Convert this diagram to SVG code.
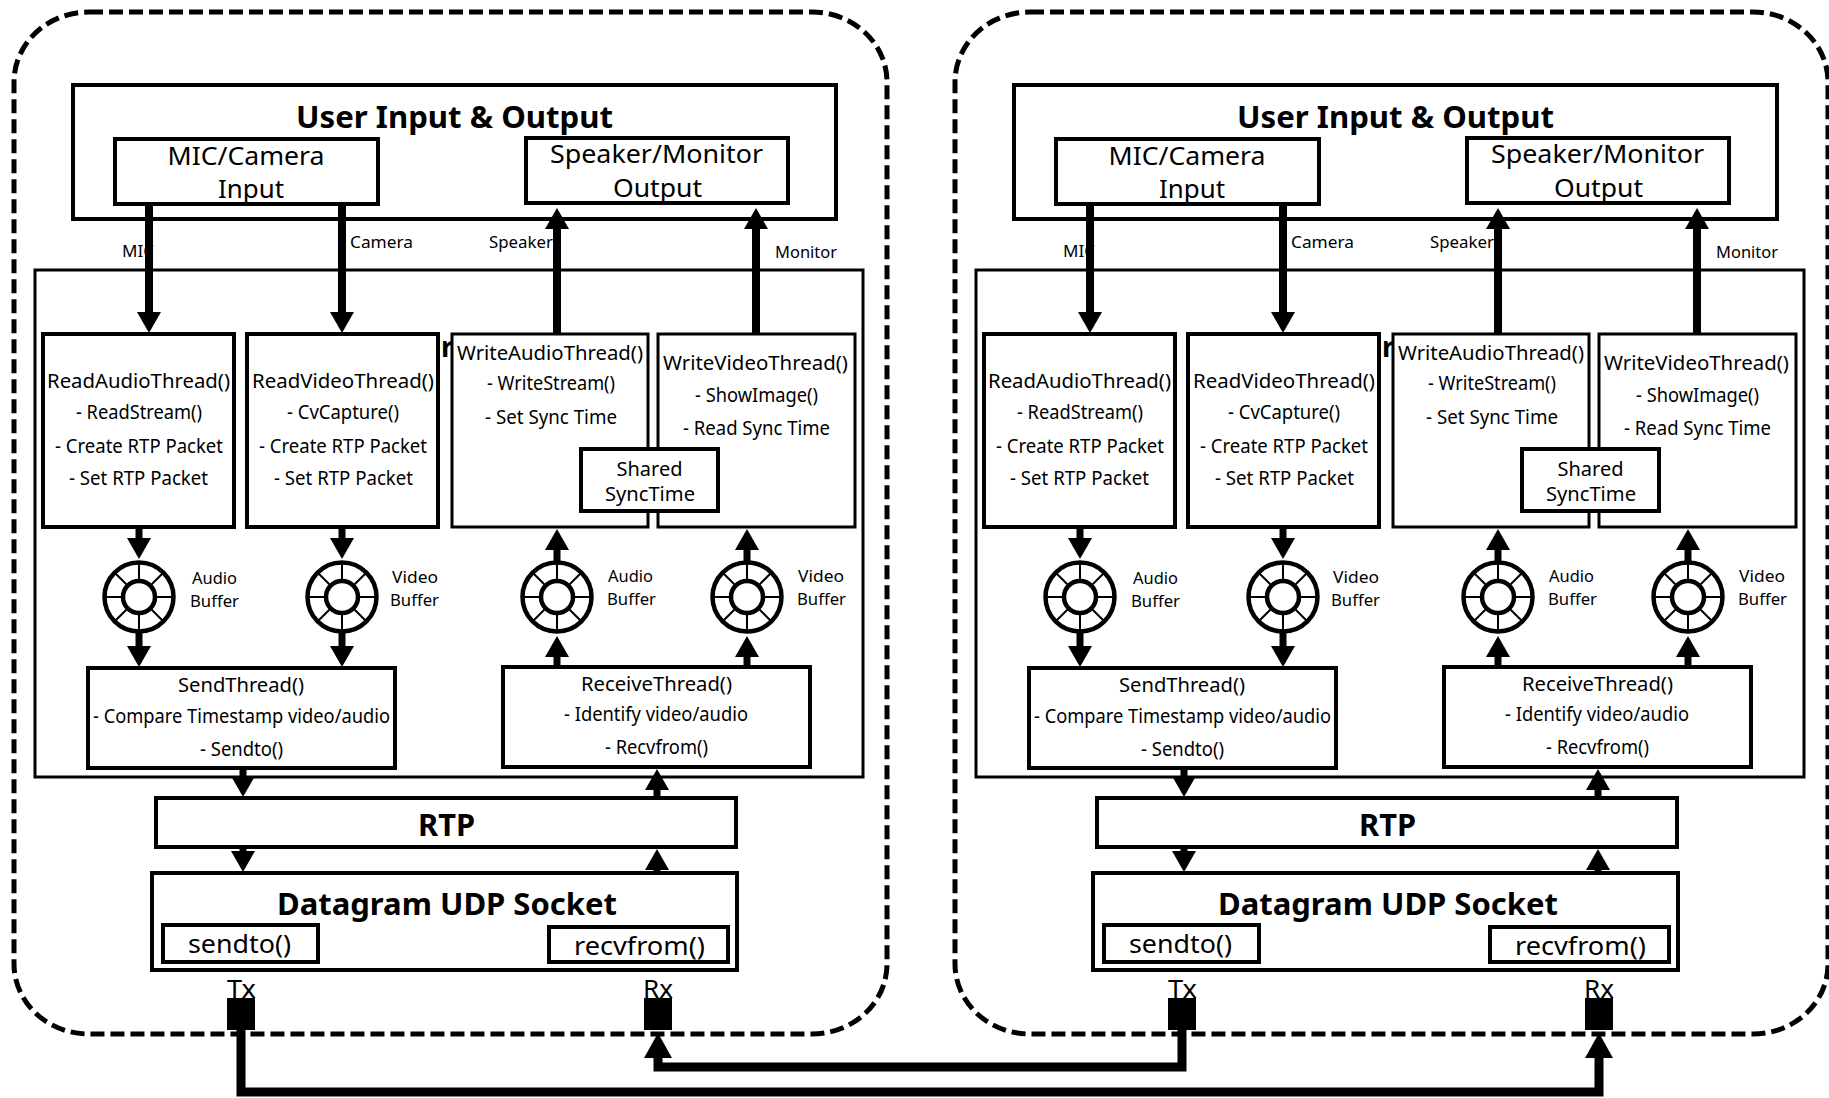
<svg xmlns="http://www.w3.org/2000/svg" xmlns:xlink="http://www.w3.org/1999/xlink" width="1829" height="1098" viewBox="0 0 1829 1098">
<style>
text{font-family:"Noto Sans","Open Sans","DejaVu Sans",sans-serif;fill:#000}
.c{text-anchor:middle}
.b{font-weight:bold}
.box{fill:#fff;stroke:#000;stroke-width:4}
.thin{stroke-width:3}
.dash{fill:none;stroke:#000;stroke-width:5;stroke-dasharray:14 6}
.t{font-size:20px}
.l{font-size:26px}
.s{font-size:17px}
.h{font-size:30px}
.arr{fill:none;stroke:#000;stroke-width:8;marker-end:url(#ah)}
.arr2{fill:none;stroke:#000;stroke-width:7;marker-end:url(#ah)}
.link{fill:none;stroke:#000;stroke-width:9;stroke-linejoin:miter;marker-end:url(#ahb)}
.port{fill:#000}
</style>
<defs>
<marker id="ah" markerUnits="userSpaceOnUse" markerWidth="22" markerHeight="24" refX="0" refY="12" orient="auto" viewBox="0 0 22 24"><path d="M0,0 L21,12 L0,24 z" fill="#000"/></marker>
<marker id="ahb" markerUnits="userSpaceOnUse" markerWidth="26" markerHeight="28" refX="0" refY="14" orient="auto" viewBox="0 0 26 28"><path d="M0,0 L25,14 L0,28 z" fill="#000"/></marker>
<g id="buf">
<circle r="34.5" fill="#fff" stroke="#000" stroke-width="4.5"/>
<circle r="16" fill="none" stroke="#000" stroke-width="4.5"/>
<g stroke="#000" stroke-width="2">
<line x1="18" y1="0" x2="34" y2="0"/><line x1="-18" y1="0" x2="-34" y2="0"/>
<line x1="0" y1="18" x2="0" y2="34"/><line x1="0" y1="-18" x2="0" y2="-34"/>
<line x1="12.7" y1="12.7" x2="24" y2="24"/><line x1="-12.7" y1="12.7" x2="-24" y2="24"/>
<line x1="12.7" y1="-12.7" x2="24" y2="-24"/><line x1="-12.7" y1="-12.7" x2="-24" y2="-24"/>
</g>
</g>
</defs>
<rect width="1829" height="1098" fill="#fff"/>

<!-- LEFT PANEL -->
<g id="panel-left">
<rect id="outline-left" class="dash" x="14" y="12" width="873" height="1022" rx="75" ry="70"/>
<g id="io-left"><rect class="box" x="73" y="85" width="763" height="134"/><text class="c b h" x="454.5" y="128" textLength="317" lengthAdjust="spacingAndGlyphs">User Input &amp; Output</text></g>
<g id="mic-left"><rect class="box" x="115" y="139" width="263" height="65"/><text class="c l" x="246" y="165" textLength="157" lengthAdjust="spacingAndGlyphs">MIC/Camera</text><text class="c l" x="251" y="198" textLength="66" lengthAdjust="spacingAndGlyphs">Input</text></g>
<g id="spk-left"><rect class="box" x="526" y="138" width="262" height="65"/><text class="c l" x="656.5" y="163" textLength="213" lengthAdjust="spacingAndGlyphs">Speaker/Monitor</text><text class="c l" x="657.5" y="197" textLength="89" lengthAdjust="spacingAndGlyphs">Output</text></g>
<g id="inner-left"><rect class="box thin" x="35" y="270" width="828" height="507"/></g>
<g id="labels-left">
<text class="s" x="122" y="257" textLength="32" lengthAdjust="spacingAndGlyphs">MIC</text>
<text class="s" x="350" y="248" textLength="63" lengthAdjust="spacingAndGlyphs">Camera</text>
<text class="s" x="489" y="248" textLength="64" lengthAdjust="spacingAndGlyphs">Speaker</text>
<text class="s" x="775" y="258" textLength="62" lengthAdjust="spacingAndGlyphs">Monitor</text>
<text class="b" x="441" y="357" font-size="28">r</text>
</g>
<g id="readaudio-left"><rect class="box" x="43" y="334" width="191" height="193"/>
<text class="c t" x="138.5" y="388" textLength="183" lengthAdjust="spacingAndGlyphs">ReadAudioThread()</text>
<text class="c t" x="139" y="419" textLength="126" lengthAdjust="spacingAndGlyphs">- ReadStream()</text>
<text class="c t" x="139" y="453" textLength="168" lengthAdjust="spacingAndGlyphs">- Create RTP Packet</text>
<text class="c t" x="138.5" y="485" textLength="139" lengthAdjust="spacingAndGlyphs">- Set RTP Packet</text></g>
<g id="readvideo-left"><rect class="box" x="247" y="334" width="191" height="193"/>
<text class="c t" x="343" y="388" textLength="182" lengthAdjust="spacingAndGlyphs">ReadVideoThread()</text>
<text class="c t" x="343" y="419" textLength="112" lengthAdjust="spacingAndGlyphs">- CvCapture()</text>
<text class="c t" x="343" y="453" textLength="168" lengthAdjust="spacingAndGlyphs">- Create RTP Packet</text>
<text class="c t" x="343.5" y="485" textLength="139" lengthAdjust="spacingAndGlyphs">- Set RTP Packet</text></g>
<g id="writeaudio-left"><rect class="box thin" x="452" y="334" width="196" height="193"/>
<text class="c t" x="550" y="360" textLength="186" lengthAdjust="spacingAndGlyphs">WriteAudioThread()</text>
<text class="c t" x="551" y="390" textLength="128" lengthAdjust="spacingAndGlyphs">- WriteStream()</text>
<text class="c t" x="551" y="424" textLength="132" lengthAdjust="spacingAndGlyphs">- Set Sync Time</text></g>
<g id="writevideo-left"><rect class="box thin" x="658" y="334" width="197" height="193"/>
<text class="c t" x="755.5" y="370" textLength="185" lengthAdjust="spacingAndGlyphs">WriteVideoThread()</text>
<text class="c t" x="756.5" y="402" textLength="123" lengthAdjust="spacingAndGlyphs">- ShowImage()</text>
<text class="c t" x="756.5" y="435" textLength="147" lengthAdjust="spacingAndGlyphs">- Read Sync Time</text></g>
<g id="shared-left"><rect class="box" x="581" y="449" width="137" height="62"/>
<text class="c t" x="649.5" y="476" textLength="66" lengthAdjust="spacingAndGlyphs">Shared</text>
<text class="c t" x="650" y="501" textLength="90" lengthAdjust="spacingAndGlyphs">SyncTime</text></g>
<g id="sendbufA-left"><use xlink:href="#buf" href="#buf" x="139" y="597"/><text class="s" x="192" y="584" textLength="45" lengthAdjust="spacingAndGlyphs">Audio</text><text class="s" x="190" y="607" textLength="49" lengthAdjust="spacingAndGlyphs">Buffer</text></g>
<g id="sendbufV-left"><use xlink:href="#buf" href="#buf" x="342" y="597"/><text class="s" x="392" y="583" textLength="46" lengthAdjust="spacingAndGlyphs">Video</text><text class="s" x="390" y="606" textLength="49" lengthAdjust="spacingAndGlyphs">Buffer</text></g>
<g id="recvbufA-left"><use xlink:href="#buf" href="#buf" x="557" y="597"/><text class="s" x="608" y="582" textLength="45" lengthAdjust="spacingAndGlyphs">Audio</text><text class="s" x="607" y="605" textLength="49" lengthAdjust="spacingAndGlyphs">Buffer</text></g>
<g id="recvbufV-left"><use xlink:href="#buf" href="#buf" x="747" y="597"/><text class="s" x="798" y="582" textLength="46" lengthAdjust="spacingAndGlyphs">Video</text><text class="s" x="797" y="605" textLength="49" lengthAdjust="spacingAndGlyphs">Buffer</text></g>
<g id="send-left"><rect class="box" x="88" y="668" width="307" height="100"/>
<text class="c t" x="241" y="692" textLength="126" lengthAdjust="spacingAndGlyphs">SendThread()</text>
<text class="c t" x="241.5" y="723" textLength="297" lengthAdjust="spacingAndGlyphs">- Compare Timestamp video/audio</text>
<text class="c t" x="241.5" y="756" textLength="83" lengthAdjust="spacingAndGlyphs">- Sendto()</text></g>
<g id="recv-left"><rect class="box" x="503" y="667" width="307" height="100"/>
<text class="c t" x="656.5" y="691" textLength="151" lengthAdjust="spacingAndGlyphs">ReceiveThread()</text>
<text class="c t" x="656" y="721" textLength="184" lengthAdjust="spacingAndGlyphs">- Identify video/audio</text>
<text class="c t" x="656.5" y="754" textLength="103" lengthAdjust="spacingAndGlyphs">- Recvfrom()</text></g>
<g id="rtp-left"><rect class="box" x="156" y="798" width="580" height="49"/><text class="c b" font-size="31" x="446.5" y="836" textLength="57" lengthAdjust="spacingAndGlyphs">RTP</text></g>
<g id="socket-left"><rect class="box" x="152" y="873" width="585" height="97"/><text class="c b h" x="447" y="915" textLength="340" lengthAdjust="spacingAndGlyphs">Datagram UDP Socket</text></g>
<g id="sendto-left"><rect class="box" x="163" y="925" width="155" height="37"/><text class="c" font-size="25" x="239.5" y="953" textLength="103" lengthAdjust="spacingAndGlyphs">sendto()</text></g>
<g id="recvfrom-left"><rect class="box" x="549" y="927" width="179" height="35"/><text class="c" font-size="25" x="639.5" y="955" textLength="131" lengthAdjust="spacingAndGlyphs">recvfrom()</text></g>
<g id="tx-left"><text font-size="26" x="227" y="998" textLength="29" lengthAdjust="spacingAndGlyphs">Tx</text><rect class="port" x="227" y="998" width="28" height="32"/></g>
<g id="rx-left"><text font-size="26" x="643" y="998" textLength="30" lengthAdjust="spacingAndGlyphs">Rx</text><rect class="port" x="644" y="998" width="28" height="32"/></g>
<g id="conn-left">
<path class="arr" d="M149,204 V312"/>
<path class="arr" d="M342,204 V312"/>
<path class="arr" d="M557,334 V229"/>
<path class="arr" d="M756,334 V229"/>
<path class="arr2" d="M139,527 V538"/>
<path class="arr2" d="M139,632 V646"/>
<path class="arr2" d="M342,527 V538"/>
<path class="arr2" d="M342,632 V646"/>
<path class="arr2" d="M557,667 V657"/>
<path class="arr2" d="M557,562 V550"/>
<path class="arr2" d="M747,667 V657"/>
<path class="arr2" d="M747,562 V550"/>
<path class="arr2" d="M243,768 V776"/>
<path class="arr2" d="M243,847 V851"/>
<path class="arr2" d="M657,873 V870"/>
<path class="arr2" d="M657,798 V790"/>
</g>
</g>

<!-- RIGHT PANEL -->
<g id="panel-right" transform="translate(941,0)">
<rect id="outline-right" class="dash" x="14" y="12" width="873" height="1022" rx="75" ry="70"/>
<g id="io-right"><rect class="box" x="73" y="85" width="763" height="134"/><text class="c b h" x="454.5" y="128" textLength="317" lengthAdjust="spacingAndGlyphs">User Input &amp; Output</text></g>
<g id="mic-right"><rect class="box" x="115" y="139" width="263" height="65"/><text class="c l" x="246" y="165" textLength="157" lengthAdjust="spacingAndGlyphs">MIC/Camera</text><text class="c l" x="251" y="198" textLength="66" lengthAdjust="spacingAndGlyphs">Input</text></g>
<g id="spk-right"><rect class="box" x="526" y="138" width="262" height="65"/><text class="c l" x="656.5" y="163" textLength="213" lengthAdjust="spacingAndGlyphs">Speaker/Monitor</text><text class="c l" x="657.5" y="197" textLength="89" lengthAdjust="spacingAndGlyphs">Output</text></g>
<g id="inner-right"><rect class="box thin" x="35" y="270" width="828" height="507"/></g>
<g id="labels-right">
<text class="s" x="122" y="257" textLength="32" lengthAdjust="spacingAndGlyphs">MIC</text>
<text class="s" x="350" y="248" textLength="63" lengthAdjust="spacingAndGlyphs">Camera</text>
<text class="s" x="489" y="248" textLength="64" lengthAdjust="spacingAndGlyphs">Speaker</text>
<text class="s" x="775" y="258" textLength="62" lengthAdjust="spacingAndGlyphs">Monitor</text>
<text class="b" x="441" y="357" font-size="28">r</text>
</g>
<g id="readaudio-right"><rect class="box" x="43" y="334" width="191" height="193"/>
<text class="c t" x="138.5" y="388" textLength="183" lengthAdjust="spacingAndGlyphs">ReadAudioThread()</text>
<text class="c t" x="139" y="419" textLength="126" lengthAdjust="spacingAndGlyphs">- ReadStream()</text>
<text class="c t" x="139" y="453" textLength="168" lengthAdjust="spacingAndGlyphs">- Create RTP Packet</text>
<text class="c t" x="138.5" y="485" textLength="139" lengthAdjust="spacingAndGlyphs">- Set RTP Packet</text></g>
<g id="readvideo-right"><rect class="box" x="247" y="334" width="191" height="193"/>
<text class="c t" x="343" y="388" textLength="182" lengthAdjust="spacingAndGlyphs">ReadVideoThread()</text>
<text class="c t" x="343" y="419" textLength="112" lengthAdjust="spacingAndGlyphs">- CvCapture()</text>
<text class="c t" x="343" y="453" textLength="168" lengthAdjust="spacingAndGlyphs">- Create RTP Packet</text>
<text class="c t" x="343.5" y="485" textLength="139" lengthAdjust="spacingAndGlyphs">- Set RTP Packet</text></g>
<g id="writeaudio-right"><rect class="box thin" x="452" y="334" width="196" height="193"/>
<text class="c t" x="550" y="360" textLength="186" lengthAdjust="spacingAndGlyphs">WriteAudioThread()</text>
<text class="c t" x="551" y="390" textLength="128" lengthAdjust="spacingAndGlyphs">- WriteStream()</text>
<text class="c t" x="551" y="424" textLength="132" lengthAdjust="spacingAndGlyphs">- Set Sync Time</text></g>
<g id="writevideo-right"><rect class="box thin" x="658" y="334" width="197" height="193"/>
<text class="c t" x="755.5" y="370" textLength="185" lengthAdjust="spacingAndGlyphs">WriteVideoThread()</text>
<text class="c t" x="756.5" y="402" textLength="123" lengthAdjust="spacingAndGlyphs">- ShowImage()</text>
<text class="c t" x="756.5" y="435" textLength="147" lengthAdjust="spacingAndGlyphs">- Read Sync Time</text></g>
<g id="shared-right"><rect class="box" x="581" y="449" width="137" height="62"/>
<text class="c t" x="649.5" y="476" textLength="66" lengthAdjust="spacingAndGlyphs">Shared</text>
<text class="c t" x="650" y="501" textLength="90" lengthAdjust="spacingAndGlyphs">SyncTime</text></g>
<g id="sendbufA-right"><use xlink:href="#buf" href="#buf" x="139" y="597"/><text class="s" x="192" y="584" textLength="45" lengthAdjust="spacingAndGlyphs">Audio</text><text class="s" x="190" y="607" textLength="49" lengthAdjust="spacingAndGlyphs">Buffer</text></g>
<g id="sendbufV-right"><use xlink:href="#buf" href="#buf" x="342" y="597"/><text class="s" x="392" y="583" textLength="46" lengthAdjust="spacingAndGlyphs">Video</text><text class="s" x="390" y="606" textLength="49" lengthAdjust="spacingAndGlyphs">Buffer</text></g>
<g id="recvbufA-right"><use xlink:href="#buf" href="#buf" x="557" y="597"/><text class="s" x="608" y="582" textLength="45" lengthAdjust="spacingAndGlyphs">Audio</text><text class="s" x="607" y="605" textLength="49" lengthAdjust="spacingAndGlyphs">Buffer</text></g>
<g id="recvbufV-right"><use xlink:href="#buf" href="#buf" x="747" y="597"/><text class="s" x="798" y="582" textLength="46" lengthAdjust="spacingAndGlyphs">Video</text><text class="s" x="797" y="605" textLength="49" lengthAdjust="spacingAndGlyphs">Buffer</text></g>
<g id="send-right"><rect class="box" x="88" y="668" width="307" height="100"/>
<text class="c t" x="241" y="692" textLength="126" lengthAdjust="spacingAndGlyphs">SendThread()</text>
<text class="c t" x="241.5" y="723" textLength="297" lengthAdjust="spacingAndGlyphs">- Compare Timestamp video/audio</text>
<text class="c t" x="241.5" y="756" textLength="83" lengthAdjust="spacingAndGlyphs">- Sendto()</text></g>
<g id="recv-right"><rect class="box" x="503" y="667" width="307" height="100"/>
<text class="c t" x="656.5" y="691" textLength="151" lengthAdjust="spacingAndGlyphs">ReceiveThread()</text>
<text class="c t" x="656" y="721" textLength="184" lengthAdjust="spacingAndGlyphs">- Identify video/audio</text>
<text class="c t" x="656.5" y="754" textLength="103" lengthAdjust="spacingAndGlyphs">- Recvfrom()</text></g>
<g id="rtp-right"><rect class="box" x="156" y="798" width="580" height="49"/><text class="c b" font-size="31" x="446.5" y="836" textLength="57" lengthAdjust="spacingAndGlyphs">RTP</text></g>
<g id="socket-right"><rect class="box" x="152" y="873" width="585" height="97"/><text class="c b h" x="447" y="915" textLength="340" lengthAdjust="spacingAndGlyphs">Datagram UDP Socket</text></g>
<g id="sendto-right"><rect class="box" x="163" y="925" width="155" height="37"/><text class="c" font-size="25" x="239.5" y="953" textLength="103" lengthAdjust="spacingAndGlyphs">sendto()</text></g>
<g id="recvfrom-right"><rect class="box" x="549" y="927" width="179" height="35"/><text class="c" font-size="25" x="639.5" y="955" textLength="131" lengthAdjust="spacingAndGlyphs">recvfrom()</text></g>
<g id="tx-right"><text font-size="26" x="227" y="998" textLength="29" lengthAdjust="spacingAndGlyphs">Tx</text><rect class="port" x="227" y="998" width="28" height="32"/></g>
<g id="rx-right"><text font-size="26" x="643" y="998" textLength="30" lengthAdjust="spacingAndGlyphs">Rx</text><rect class="port" x="644" y="998" width="28" height="32"/></g>
<g id="conn-right">
<path class="arr" d="M149,204 V312"/>
<path class="arr" d="M342,204 V312"/>
<path class="arr" d="M557,334 V229"/>
<path class="arr" d="M756,334 V229"/>
<path class="arr2" d="M139,527 V538"/>
<path class="arr2" d="M139,632 V646"/>
<path class="arr2" d="M342,527 V538"/>
<path class="arr2" d="M342,632 V646"/>
<path class="arr2" d="M557,667 V657"/>
<path class="arr2" d="M557,562 V550"/>
<path class="arr2" d="M747,667 V657"/>
<path class="arr2" d="M747,562 V550"/>
<path class="arr2" d="M243,768 V776"/>
<path class="arr2" d="M243,847 V851"/>
<path class="arr2" d="M657,873 V870"/>
<path class="arr2" d="M657,798 V790"/>
</g>
</g>

<!-- LINKS BETWEEN PEERS -->
<g id="links">
<path class="link" d="M1182,1030 V1067 H658 V1058"/>
<path class="link" d="M241,1030 V1092 H1599 V1058"/>
</g>
</svg>
